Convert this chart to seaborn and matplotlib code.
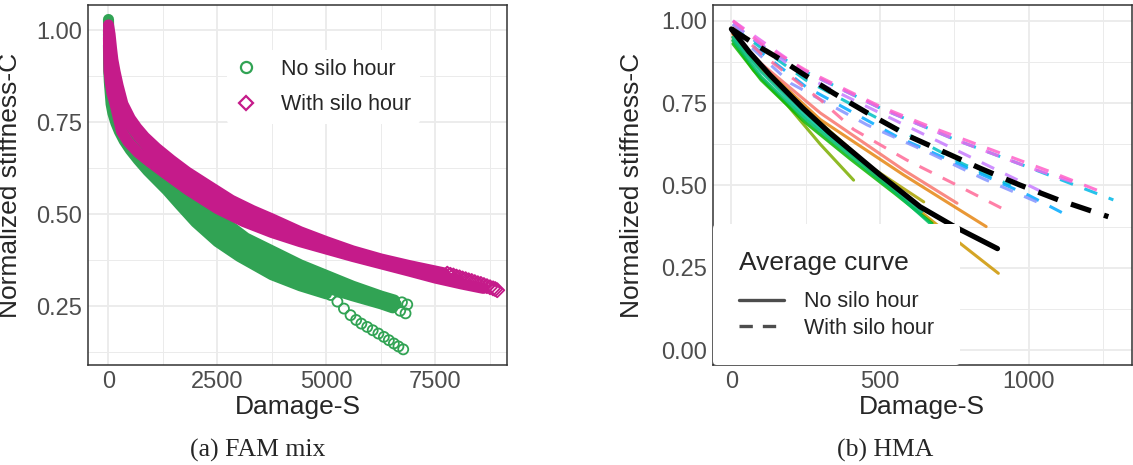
import numpy as np
import pandas as pd
import matplotlib
matplotlib.use('Agg')
import matplotlib.pyplot as plt
from matplotlib.lines import Line2D
from matplotlib.ticker import FormatStrFormatter
import seaborn as sns

# ---------------- (a) FAM mix: replicate damage curves ----------------
# no silo hour (green circles)
g1_s = [0, 8, 20, 40, 70, 110, 170, 250, 360, 500, 680, 900, 1150, 1450, 1800, 2200, 2650, 3150,
        3750, 4400, 5000, 5600, 6250, 6560, 6730, 6852]
g1_c = [1.03, 0.97, 0.93, 0.895, 0.865, 0.84, 0.815, 0.79, 0.762, 0.735, 0.705, 0.673, 0.64, 0.605,
        0.565, 0.525, 0.48, 0.435, 0.40, 0.362, 0.333, 0.304, 0.277, 0.266, 0.26, 0.254]
g4_s = [0, 8, 20, 40, 70, 110, 170, 250, 360, 500, 680, 900, 1150, 1450, 1800, 2200, 2650, 3150,
        3750, 4400, 5000, 5600, 6250, 6600]
g4_c = [1.0, 0.95, 0.905, 0.87, 0.84, 0.815, 0.79, 0.765, 0.74, 0.715, 0.687, 0.657, 0.625, 0.588,
        0.548, 0.503, 0.46, 0.418, 0.378, 0.343, 0.316, 0.29, 0.266, 0.255]
g2_s = [0, 8, 20, 40, 70, 110, 170, 250, 360, 500, 680, 900, 1150, 1450, 1800, 2200, 2650, 3150,
        3750, 4400, 5000, 5600, 6250, 6520, 6690, 6813]
g2_c = [0.99, 0.93, 0.885, 0.85, 0.82, 0.795, 0.77, 0.745, 0.72, 0.695, 0.667, 0.638, 0.606, 0.568,
        0.525, 0.48, 0.435, 0.395, 0.357, 0.325, 0.30, 0.278, 0.256, 0.245, 0.237, 0.23]
g3_s = [0, 3, 8, 20, 40, 60, 100, 170, 250, 360, 500, 680, 900, 1150, 1342, 1640, 2000, 2500, 3000,
        3750, 4400, 5000]
g3_c = [0.96, 0.92, 0.89, 0.86, 0.83, 0.80, 0.775, 0.748, 0.725, 0.70, 0.675, 0.648, 0.618, 0.588,
        0.565, 0.525, 0.478, 0.425, 0.385, 0.335, 0.305, 0.283]
g3_tail_s = [5093, 5250, 5400, 5552, 5680, 5800, 5934, 6060, 6190, 6316, 6430, 6545, 6650, 6760]
g3_tail_c = [0.28, 0.262, 0.243, 0.225, 0.212, 0.202, 0.193, 0.184, 0.175, 0.166, 0.157, 0.148, 0.14, 0.132]

# with silo hour (magenta diamonds)
m1_s = [0, 35, 70, 100, 150, 220, 330, 500, 650, 830, 1100, 1441, 1800, 2207, 2817, 3300,
        3750, 4400, 5000, 5600, 6250, 6900, 7500, 7700]
m1_c = [1.015, 0.99, 0.95, 0.92, 0.888, 0.85, 0.80, 0.76, 0.735, 0.71, 0.68, 0.647,
        0.615, 0.584, 0.538, 0.51, 0.487, 0.452, 0.425, 0.40, 0.378, 0.36, 0.345, 0.340]
m1_tail_s = [7770, 7840, 7910, 7980, 8050, 8120, 8190, 8260, 8330, 8400, 8470, 8540, 8610, 8680,
             8750, 8820, 8870, 8915]
m1_tail_c = [0.338, 0.335, 0.333, 0.330, 0.328, 0.325, 0.323, 0.320, 0.318, 0.315, 0.312, 0.310,
             0.307, 0.304, 0.301, 0.298, 0.296, 0.293]
m3_s = [0, 10, 30, 60, 100, 160, 250, 360, 500, 680, 900, 1150, 1450, 1800, 2200, 2650, 3150,
        3750, 4400, 5000, 5600, 6250, 6900, 7500, 8000]
m3_c = [1.0, 0.975, 0.94, 0.905, 0.87, 0.835, 0.80, 0.77, 0.742, 0.713, 0.683, 0.652, 0.62, 0.59,
        0.56, 0.53, 0.50, 0.468, 0.44, 0.415, 0.392, 0.371, 0.352, 0.335, 0.32]
m2_s = [0, 5, 12, 40, 80, 150, 220, 300, 450, 677, 950, 1289, 1824, 2500, 3100, 3750, 4400,
        5000, 5600, 6250, 6900, 7500, 8100, 8600]
m2_c = [0.98, 0.93, 0.89, 0.86, 0.83, 0.80, 0.765, 0.725, 0.697, 0.668, 0.642, 0.612, 0.566,
        0.515, 0.48, 0.45, 0.425, 0.405, 0.385, 0.365, 0.345, 0.326, 0.31, 0.298]

# ---------------- (b) HMA: specimen curves ----------------
spec_ids = ['N1', 'N2', 'N3', 'N4', 'N5', 'N6', 'N7', 'N8',
            'W1', 'W2', 'W3', 'W4', 'W5', 'W6', 'W7', 'W8']
spec_silo = ['No silo hour'] * 8 + ['With silo hour'] * 8
spec_colors = ['#F8766D', '#E68613', '#CD9600', '#ABA300', '#7CAE00', '#0CB702', '#00BE67', '#00C19A',
               '#00BFC4', '#00B8E7', '#00A9FF', '#8494FF', '#C77CFF', '#ED68ED', '#FF61C9', '#FF6A98']
spec_s = [
    [5, 100, 299, 579, 759],
    [5, 100, 299, 579, 857],
    [5, 100, 250, 500, 747, 898],
    [5, 100, 250, 467, 647],
    [5, 74, 187, 299, 411],
    [5, 100, 250, 400, 550, 675],
    [5, 100, 250, 400, 550, 680],
    [5, 100, 250, 400, 550, 640],
    [5, 250, 500, 780, 940],
    [5, 100, 250, 500, 750, 1000, 1285],
    [5, 250, 557, 800, 1000, 1117],
    [5, 200, 456, 658, 848, 1038],
    [5, 250, 500, 750, 1000, 1080],
    [5, 250, 500, 750, 1000, 1150],
    [5, 100, 250, 500, 669, 870, 1072, 1257],
    [5, 100, 299, 411, 590, 747, 943],
]
spec_c = [
    [0.96, 0.87, 0.72, 0.547, 0.446],
    [0.96, 0.865, 0.70, 0.532, 0.375],
    [0.95, 0.85, 0.72, 0.52, 0.34, 0.233],
    [0.95, 0.86, 0.73, 0.557, 0.45],
    [0.94, 0.85, 0.745, 0.625, 0.516],
    [0.93, 0.82, 0.69, 0.58, 0.475, 0.385],
    [0.94, 0.83, 0.70, 0.59, 0.48, 0.375],
    [0.95, 0.845, 0.71, 0.60, 0.49, 0.42],
    [0.98, 0.82, 0.70, 0.565, 0.50],
    [0.99, 0.925, 0.845, 0.735, 0.64, 0.555, 0.456],
    [0.97, 0.80, 0.648, 0.55, 0.47, 0.415],
    [0.97, 0.81, 0.684, 0.602, 0.52, 0.446],
    [0.99, 0.83, 0.72, 0.61, 0.50, 0.465],
    [1.0, 0.845, 0.735, 0.64, 0.555, 0.51],
    [1.0, 0.93, 0.85, 0.74, 0.678, 0.61, 0.542, 0.476],
    [0.98, 0.90, 0.76, 0.67, 0.577, 0.506, 0.415],
]
avg_no_s = [0, 60, 130, 240, 330, 500, 635, 750, 895]
avg_no_c = [0.975, 0.905, 0.835, 0.735, 0.66, 0.532, 0.435, 0.375, 0.308]
avg_with_s = [0, 86, 170, 238, 344, 467, 601, 714, 837, 971, 1100, 1268]
avg_with_c = [0.975, 0.925, 0.88, 0.84, 0.78, 0.715, 0.648, 0.602, 0.552, 0.501, 0.456, 0.405]

GREEN = '#31A354'
MAGENTA = '#C51B8A'

sns.set_style('white')
plt.rcParams['font.family'] = ['Liberation Sans', 'DejaVu Sans']

fig = plt.figure(figsize=(11.33, 4.65), dpi=100)
W, H = 1133, 465
ax1 = fig.add_axes([88 / W, 100 / H, 419 / W, 360 / H])
ax2 = fig.add_axes([713 / W, 100 / H, 418.5 / W, 360 / H])


def gg_axes(ax, xmaj, xmin, ymaj, ymin, ylab_x):
    ax.set_xticks(xmaj)
    ax.set_xticks(xmin, minor=True)
    ax.set_yticks(ymaj)
    ax.set_yticks(ymin, minor=True)
    ax.grid(which='major', color='#ebebeb', lw=1.3)
    ax.grid(which='minor', color='#ebebeb', lw=0.7)
    ax.set_axisbelow(True)
    for sp in ax.spines.values():
        sp.set_visible(True)
        sp.set_color('#333333')
        sp.set_linewidth(1.1)
    ax.tick_params(which='major', length=3, width=1.1, color='#333333',
                   labelcolor='#4d4d4d', labelsize=17, pad=1)
    ax.tick_params(which='minor', length=0)
    ax.yaxis.set_major_formatter(FormatStrFormatter('%.2f'))
    ax.set_xlabel('Damage-S', fontsize=19, labelpad=2)
    ax.set_ylabel('Normalized stiffness-C', fontsize=19)
    ax.yaxis.set_label_coords(ylab_x, 0.5)


# ---- panel (a) ----
band_lw = 8
mk = dict(s=52, facecolor='none', linewidth=1.3)
for s, c, cut in [(g1_s, g1_c, -2), (g4_s, g4_c, None), (g2_s, g2_c, -2), (g3_s, g3_c, None)]:
    sns.lineplot(x=s[:cut], y=c[:cut], color=GREEN, lw=band_lw, sort=False, estimator=None,
                 solid_capstyle='round', ax=ax1, zorder=2)
    if cut:
        sns.scatterplot(x=s[cut:], y=c[cut:], marker='o', edgecolor=GREEN, ax=ax1, zorder=3, **mk)
sns.scatterplot(x=g3_tail_s, y=g3_tail_c, marker='o', edgecolor=GREEN, ax=ax1, zorder=3, **mk)
for s, c in [(m1_s, m1_c), (m3_s, m3_c), (m2_s, m2_c)]:
    sns.lineplot(x=s, y=c, color=MAGENTA, lw=band_lw, sort=False, estimator=None,
                 solid_capstyle='round', ax=ax1, zorder=4)
sns.scatterplot(x=m1_tail_s, y=m1_tail_c, marker='D', edgecolor=MAGENTA, ax=ax1, zorder=5, **mk)

ax1.set_xlim(-470, 9140)
ax1.set_ylim(0.0894, 1.0694)
gg_axes(ax1, [0, 2500, 5000, 7500], [1250, 3750, 6250, 8750],
        [0.25, 0.5, 0.75, 1.0], [0.125, 0.375, 0.625, 0.875], (22 - 88) / 419)

h1 = [Line2D([], [], ls='none', marker='o', ms=8, mfc='none', mec=GREEN, mew=1.6),
      Line2D([], [], ls='none', marker='D', ms=7, mfc='none', mec=MAGENTA, mew=1.6)]
leg1 = ax1.legend(h1, ['No silo hour', 'With silo hour'], loc='upper left',
                  bbox_to_anchor=((227 - 88) / 419, (365 - 50) / 360), borderaxespad=0,
                  fontsize=15.5, handlelength=1.0, handletextpad=1.1, labelspacing=0.68,
                  frameon=True, facecolor='white', edgecolor='none', framealpha=1, borderpad=0.4)
leg1.set_zorder(10)

# ---- panel (b) ----
rows = []
for sid, silo, s, c in zip(spec_ids, spec_silo, spec_s, spec_c):
    for si, ci in zip(s, c):
        rows.append((sid, silo, si, ci))
df = pd.DataFrame(rows, columns=['specimen', 'silo', 'S', 'C'])
sns.lineplot(data=df, x='S', y='C', hue='specimen', style='silo', units='specimen',
             palette=dict(zip(spec_ids, spec_colors)),
             dashes={'No silo hour': '', 'With silo hour': (4.5, 4)},
             estimator=None, sort=False, lw=2.2, alpha=0.85, legend=False, ax=ax2, zorder=2)
sns.lineplot(x=avg_no_s, y=avg_no_c, color='black', lw=3.8, estimator=None, sort=False,
             ax=ax2, zorder=3)
sns.lineplot(x=avg_with_s, y=avg_with_c, color='black', lw=3.8, estimator=None, sort=False,
             linestyle=(0, (4, 2.6)), ax=ax2, zorder=3)
ax2.set_xlim(-62, 1346)
ax2.set_ylim(-0.0455, 1.048)
gg_axes(ax2, [0, 500, 1000], [250, 750, 1250],
        [0, 0.25, 0.5, 0.75, 1.0], [0.125, 0.375, 0.625, 0.875], (644 - 713) / 418.5)

h2 = [Line2D([], [], color='#4d4d4d', lw=2.4),
      Line2D([], [], color='#4d4d4d', lw=2.4, ls=(0, (4, 3)))]
leg2 = ax2.legend(h2, ['No silo hour', 'With silo hour'], title='Average curve', loc='lower left',
                  bbox_to_anchor=(0, 0), borderaxespad=0, fontsize=15.5, title_fontsize=19,
                  alignment='left', handlelength=2.1, handletextpad=0.9, labelspacing=0.25,
                  frameon=True, facecolor='white', edgecolor='none', framealpha=1, borderpad=1.22)
leg2._legend_box.sep = 12
leg2.set_zorder(10)

# ---- captions ----
fig.text(258 / W, 1 - 450 / H, '(a) FAM mix', ha='center', va='center',
         family=['Liberation Serif', 'DejaVu Serif'], fontsize=18.5)
fig.text(885 / W, 1 - 450 / H, '(b) HMA', ha='center', va='center',
         family=['Liberation Serif', 'DejaVu Serif'], fontsize=18.5)

fig.savefig('out.png', dpi=100, facecolor='white')
